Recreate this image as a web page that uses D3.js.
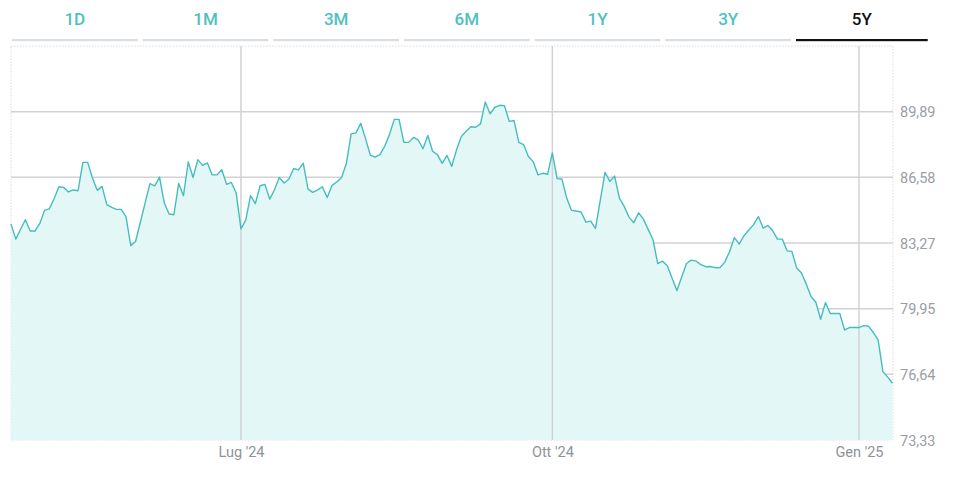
<!DOCTYPE html>
<html>
<head>
<meta charset="utf-8">
<script src="https://cdn.jsdelivr.net/npm/d3@7"></script>
<style>
  html, body { margin: 0; padding: 0; background: #fff; }
  svg { display: block; }
  text { font-family: Roboto, "Noto Sans", sans-serif; }
</style>
</head>
<body>
<svg id="chart" width="954" height="492"></svg>
<script>
// ---- data ----
const tabs = ["1D", "1M", "3M", "6M", "1Y", "3Y", "5Y"];
const activeTab = "5Y";

const prices = [
  84.22, 83.46, 83.96, 84.44, 83.87, 83.87, 84.24, 84.91, 84.99, 85.50,
  86.10, 86.07, 85.84, 85.94, 85.90, 87.33, 87.33, 86.54, 85.92, 86.12,
  85.20, 85.06, 84.96, 84.96, 84.60, 83.13, 83.34, 84.31, 85.29, 86.26,
  86.15, 86.59, 85.28, 84.73, 84.69, 86.27, 85.65, 87.35, 86.57, 87.47,
  87.18, 87.30, 86.70, 86.70, 86.96, 86.22, 86.32, 85.79, 83.98, 84.42,
  85.66, 85.25, 86.15, 86.22, 85.48, 85.95, 86.57, 86.29, 86.48, 87.02,
  86.95, 87.29, 85.98, 85.82, 85.94, 86.10, 85.56, 86.17, 86.34, 86.57,
  87.27, 88.77, 88.82, 89.30, 88.53, 87.70, 87.60, 87.72, 88.14, 88.73,
  89.50, 89.50, 88.34, 88.34, 88.59, 88.46, 88.02, 88.69, 87.89, 87.72,
  87.28, 87.68, 87.13, 87.97, 88.64, 88.90, 89.13, 89.10, 89.27, 90.38,
  89.78, 90.11, 90.21, 90.19, 89.40, 89.44, 88.34, 88.23, 87.63, 87.37,
  86.70, 86.78, 86.73, 87.81, 86.51, 86.49, 85.53, 84.91, 84.88, 84.83,
  84.32, 84.37, 84.00, 85.41, 86.83, 86.37, 86.64, 85.53, 85.11, 84.57,
  84.29, 84.79, 84.47, 83.95, 83.43, 82.23, 82.35, 82.12, 81.49, 80.87,
  81.55, 82.23, 82.40, 82.35, 82.17, 82.07, 82.08, 82.02, 82.03, 82.30,
  82.84, 83.54, 83.21, 83.63, 83.92, 84.19, 84.60, 84.02, 84.15, 83.88,
  83.46, 83.46, 82.87, 82.84, 82.00, 81.75, 81.19, 80.57, 80.28, 79.42,
  80.26, 79.71, 79.71, 79.71, 78.88, 79.00, 79.00, 79.00, 79.10, 79.07,
  78.75, 78.38, 76.78, 76.50, 76.19
];

const xTickIndex = [48, 113, 177];
const xTickLabels = ["Lug '24", "Ott '24", "Gen '25"];
const yTickValues = [73.33, 76.64, 79.95, 83.27, 86.58, 89.89];
const yDomain = [73.33, 93.20];

// ---- layout ----
const W = 954, H = 492;
const plot = { left: 11, right: 893, top: 46, bottom: 440 };

const svg = d3.select("#chart");

// tabs
const tabScale = d3.scaleBand().domain(tabs).range([12, 921.7]).paddingInner(0.038).paddingOuter(0);
const tabG = svg.append("g");
tabs.forEach(t => {
  const x0 = tabScale(t), bw = tabScale.bandwidth();
  const active = t === activeTab;
  const w = bw + (active ? 6 : 0);
  tabG.append("text")
    .attr("x", x0 + w / 2).attr("y", 25)
    .attr("text-anchor", "middle")
    .attr("font-size", 17).attr("font-weight", 500)
    .attr("fill", active ? "#111" : "#4fc0c0")
    .text(t);
  tabG.append("rect")
    .attr("x", x0).attr("y", 39)
    .attr("width", w).attr("height", 2.2)
    .attr("fill", active ? "#111" : "#d9dee3");
});

// scales
const x = d3.scaleLinear().domain([0, prices.length - 1]).range([plot.left, 892.5]);
const y = d3.scaleLinear().domain(yDomain).range([plot.bottom, plot.top]);

// plot border (dotted)
svg.append("rect")
  .attr("x", plot.left).attr("y", plot.top)
  .attr("width", plot.right - plot.left).attr("height", plot.bottom - plot.top)
  .attr("fill", "none").attr("stroke", "#dcdcdc").attr("stroke-width", 1)
  .attr("stroke-dasharray", "1.5,1.5");

// horizontal grid
svg.append("g").selectAll("line").data(yTickValues.slice(1)).join("line")
  .attr("x1", plot.left).attr("x2", plot.right)
  .attr("y1", d => y(d)).attr("y2", d => y(d))
  .attr("stroke", "#d2d2d4").attr("stroke-width", 1.5);

// area + line
const area = d3.area().x((d, i) => x(i)).y0(plot.bottom).y1(d => y(d));
const line = d3.line().x((d, i) => x(i)).y(d => y(d));

svg.append("path").datum(prices).attr("d", area).attr("fill", "#e3f7f7");

// vertical grid
svg.append("g").selectAll("line").data(xTickIndex).join("line")
  .attr("x1", d => x(d)).attr("x2", d => x(d))
  .attr("y1", plot.top).attr("y2", plot.bottom)
  .attr("stroke", "#d2d2d4").attr("stroke-width", 1.5);

svg.append("path").datum(prices).attr("d", line)
  .attr("fill", "none").attr("stroke", "#46bdbd").attr("stroke-width", 1.4)
  .attr("stroke-linejoin", "round");

// y axis
const itLocale = d3.formatLocale({ decimal: ",", thousands: ".", grouping: [3], currency: ["€", ""] });
const yAxis = d3.axisRight(y).tickValues(yTickValues).tickSize(0).tickPadding(0)
  .tickFormat(itLocale.format(".2f"));
const yG = svg.append("g").attr("transform", `translate(900,0)`).call(yAxis);
yG.select(".domain").remove();
yG.selectAll("text")
  .attr("font-size", 14.5).attr("fill", "#9a9ea6")
  .attr("font-family", "Roboto, sans-serif")
  .attr("dy", "0.36em");

// x axis
const xAxis = d3.axisBottom(x).tickValues(xTickIndex).tickSize(0).tickPadding(0)
  .tickFormat((d, i) => xTickLabels[i]);
const xG = svg.append("g").attr("transform", `translate(0,446)`).call(xAxis);
xG.select(".domain").remove();
xG.selectAll("text")
  .attr("font-size", 14.5).attr("fill", "#8e9299")
  .attr("font-family", "Roboto, sans-serif")
  .attr("dy", "0.75em");
</script>
</body>
</html>
